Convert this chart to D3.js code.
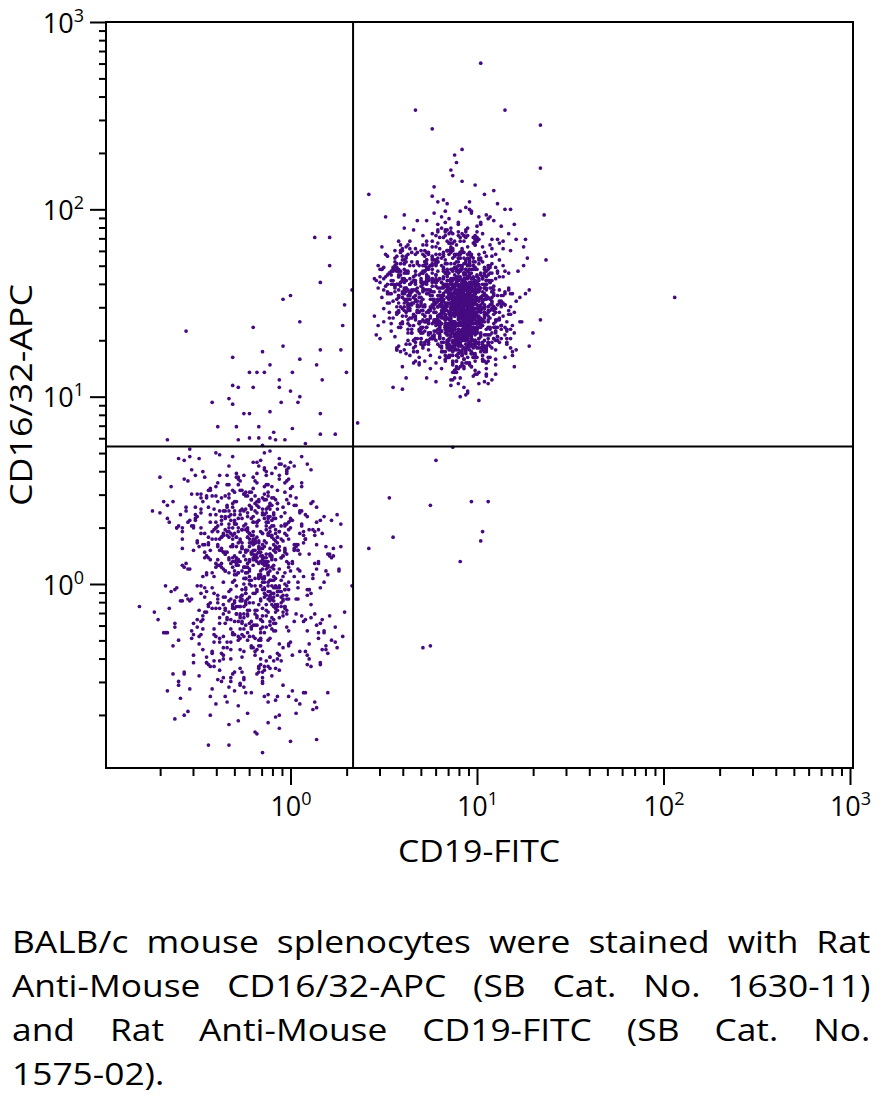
<!DOCTYPE html>
<html>
<head>
<meta charset="utf-8">
<script src="https://cdn.jsdelivr.net/npm/d3@7"></script>
<style>
  html, body { margin: 0; padding: 0; background: #fff; }
  body { width: 883px; height: 1116px; position: relative; overflow: hidden; }
  svg { position: absolute; left: 0; top: 0; }
  #caption { position: absolute; left: 12px; top: 919px; width: 753px;
    transform: scaleX(1.14); transform-origin: 0 0;
    font-family: "Open Sans", sans-serif; font-size: 31px; line-height: 44px; color: #000; }
  #caption .j { text-align: justify; text-align-last: justify; }
</style>
</head>
<body>
<svg id="chart" width="883" height="900"></svg>
<div id="caption">
  <div class="j">BALB/c mouse splenocytes were stained with Rat</div>
  <div class="j">Anti-Mouse CD16/32-APC (SB Cat. No. 1630-11)</div>
  <div class="j">and Rat Anti-Mouse CD19-FITC (SB Cat. No.</div>
  <div>1575-02).</div>
</div>
<script>
// ---------------- DATA (event intensities stored as log10(value) x 100) ----------------
const xLabel = "CD19-FITC";
const yLabel = "CD16/32-APC";
const majorTicks = [1, 10, 100, 1000];
const majorExponents = ["0", "1", "2", "3"];
const minorMultipliers = [2, 3, 4, 5, 6, 7, 8, 9];
const minorDecades = [0.1, 1, 10, 100];
const gateCD19 = 2.165;     // vertical quadrant gate
const gateCD1632 = 5.42;    // horizontal quadrant gate

// CD19+ CD16/32+ population: dense core
const upperCD19 = [
92,85,101,97,78,88,110,94,83,99,90,105,87,72,95,91,100,84,113,93,
89,96,81,104,92,75,98,86,107,93,90,82,118,95,88,101,79,94,91,86,
97,84,93,108,90,77,99,87,95,102,70,91,85,96,112,89,93,81,100,94,
88,103,92,83,97,115,90,86,99,76,94,91,105,82,93,98,87,109,73,95,
91,99,84,96,89,106,93,80,101,92,87,117,94,85,98,90,78,103,95,88,
100,86,93,111,90,82,97,95,74,89,104,92,87,99,84,96,91,108,80,93,
85,98,92,79,102,94,88,114,90,97,83,95,91,106,87,71,100,93,89,96,
94,81,99,90,107,86,92,97,77,103,89,95,84,110,93,88,101,91,66,98,
90,96,87,104,93,80,99,85,92,112,94,89,102,83,97,91,76,100,88,95,
97,89,93,84,108,91,86,100,95,73,92,98,87,105,90,82,96,119,93,88,
86,101,94,90,78,97,92,109,85,99,91,83,96,104,89,93,100,75,95,87,
93,88,102,96,81,91,114,87,98,90,94,84,106,92,79,97,89,101,86,95,
99,92,85,107,90,96,88,72,100,94,83,97,91,111,86,93,104,89,80,96,
91,97,84,93,103,88,95,77,99,90,108,86,94,82,101,92,97,87,116,90,
88,95,100,83,92,106,89,96,74,98,91,85,103,94,87,99,81,93,110,96,
95,87,92,101,80,97,90,113,86,94,99,84,91,105,89,96,78,100,93,88,
102,90,86,95,98,83,109,92,88,96,76,101,94,87,91,104,85,97,90,120,
89,94,99,82,93,107,87,91,96,79,100,92,86,103,95,90,112,84,98,93,
96,85,91,104,88,97,81,94,101,90,115,87,93,99,83,92,106,89,74,97,
92,100,87,94,78,98,91,105,86,96,89,102,93,84,110,95,90,81,99,88,
87,93,108,90,97,84,101,92,76,95,88,99,91,104,85,96,93,118,82,94,
98,91,85,102,94,80,96,89,107,92,86,100,71,97,93,88,103,90,95,84,
90,104,93,87,99,83,95,111,89,92,97,78,101,86,94,90,106,85,98,92,
94,88,100,95,82,91,109,87,96,93,77,102,89,98,85,94,105,91,80,97,
85,97,92,103,89,95,81,99,93,87,114,90,96,84,101,92,88,107,94,73,
101,90,87,96,93,106,84,98,91,79,100,95,88,103,92,86,97,116,90,94,
93,86,99,91,108,88,95,82,97,90,104,87,94,100,76,92,98,85,102,89,
89,95,104,84,92,97,79,101,94,88,110,91,96,86,99,93,81,105,90,97,
97,92,88,100,85,94,113,90,96,83,98,92,87,106,95,75,101,89,93,99,
91,84,96,102,90,87,99,93,80,104,95,89,108,92,86,97,94,82,100,64,
95,90,85,98,107,92,88,101,94,78,96,91,103,87,99,93,84,112,90,96,
88,102,93,86,97,91,81,104,95,90,99,85,92,109,87,96,77,100,94,91,
100,87,94,90,83,105,92,97,89,115,93,86,98,91,80,102,95,88,106,92,
92,97,84,99,91,88,103,95,76,93,101,87,96,90,110,85,94,98,82,89,
86,93,101,92,97,80,95,89,106,91,98,84,93,100,87,117,90,96,83,94,
99,91,88,104,93,86,96,79,101,92,89,97,111,85,95,90,103,88,94,72,
90,95,107,87,93,98,82,100,91,96,85,102,89,94,78,99,92,108,86,95,
96,84,93,90,101,88,113,92,97,81,95,89,104,93,87,99,91,76,100,94,
87,99,92,105,83,96,90,94,88,102,79,97,93,86,110,91,98,85,95,90,
93,101,86,95,90,109,84,98,92,88,100,74,96,91,104,87,94,99,82,97,
89,94,98,83,102,91,95,87,106,93,80,99,90,96,85,114,92,97,88,101,
97,88,92,100,86,94,79,103,91,96,89,108,84,95,93,98,77,90,102,92,
84,95,103,91,97,87,92,111,89,99,85,94,101,90,96,82,105,93,88,95,
91,98,87,94,106,90,83,96,100,92,78,97,89,103,93,86,99,118,91,85
];
const upperCD1632 = [
146,131,158,140,172,149,125,153,137,162,144,118,151,135,167,142,156,129,148,183,
139,152,127,160,145,134,170,148,121,155,141,163,136,150,113,157,143,131,176,147,
154,138,149,166,132,145,159,124,151,140,178,146,133,157,142,116,161,148,136,153,
143,160,135,150,128,155,147,188,139,163,131,152,144,169,126,149,158,137,145,121,
150,134,162,141,155,119,147,138,173,153,130,146,159,136,151,143,165,127,140,156,
137,157,145,130,164,148,123,154,141,168,133,150,144,181,139,158,128,147,152,115,
158,142,131,154,146,171,137,150,125,161,143,135,155,148,118,152,140,166,134,149,
145,129,160,139,152,143,177,133,156,147,122,151,138,163,130,146,157,110,144,154,
133,155,148,126,162,140,151,136,169,145,158,131,147,120,153,142,174,137,149,160,
152,139,144,167,134,157,127,149,141,162,146,185,135,153,130,158,143,124,150,138,
141,163,132,150,145,159,117,148,137,155,129,166,144,152,134,171,140,156,126,147,
159,136,153,128,146,142,164,151,121,139,157,133,148,170,143,131,155,137,179,145,
130,150,141,158,136,147,125,161,143,154,138,176,149,132,160,146,119,152,140,165,
147,134,165,143,152,129,156,140,168,135,150,144,123,159,137,153,142,182,131,148,
155,141,137,149,118,162,146,133,157,144,170,128,151,139,163,147,135,154,112,143,
138,160,147,131,154,145,167,136,150,126,158,142,149,175,134,152,140,121,161,146,
149,127,153,142,164,137,148,159,132,145,156,140,172,129,151,143,166,135,147,116,
132,157,144,151,139,169,126,153,141,148,135,161,145,120,155,138,150,178,143,160,
161,145,129,154,147,136,158,142,174,131,149,138,163,144,124,152,140,157,134,151,
144,152,138,124,159,146,133,167,140,155,129,148,137,160,145,186,132,153,142,127,
153,135,162,147,130,156,141,149,171,138,152,122,158,144,136,165,148,131,154,143,
136,148,155,139,166,133,151,128,146,161,140,157,134,150,177,143,125,159,147,138,
151,142,131,158,145,173,137,154,119,148,140,163,152,135,146,157,129,142,168,133,
140,165,149,134,152,127,144,160,138,151,133,147,181,141,155,130,162,145,136,123,
157,131,146,163,139,150,124,155,143,136,170,148,129,153,141,158,114,149,137,164,
148,154,137,129,160,145,135,151,167,140,156,132,147,122,158,142,175,136,152,144,
134,147,159,143,126,155,140,164,133,150,145,117,157,139,162,146,130,153,141,169,
163,139,148,156,134,143,172,128,152,146,137,158,125,149,141,166,135,154,144,131,
142,156,130,147,162,138,151,121,145,159,134,168,140,153,127,148,143,176,136,155,
150,128,164,141,153,147,133,158,138,145,180,131,156,143,160,137,149,124,152,146,
131,153,144,170,137,149,159,126,146,141,154,135,163,148,130,157,142,151,115,138,
156,140,151,133,148,124,161,145,139,166,128,152,143,157,136,147,173,134,150,142,
145,168,135,152,141,157,130,149,162,137,146,155,121,143,158,132,150,140,165,127,
138,150,157,127,163,144,152,136,148,174,131,159,140,147,134,153,118,156,142,149,
160,137,146,154,132,149,142,167,129,155,139,148,161,126,151,144,136,170,147,133,
143,158,130,147,155,139,171,134,152,140,160,123,149,136,145,163,141,128,154,148,
152,133,161,140,146,128,154,143,177,137,150,145,132,158,141,119,156,147,139,164,
135,149,144,162,129,153,138,147,158,126,143,169,140,151,134,156,145,131,160,141,
155,143,150,125,159,142,134,165,147,138,152,130,146,161,137,183,144,153,128,149,
141,160,136,148,153,131,157,144,122,151,139,162,133,147,155,140,168,129,146,137,
147,132,156,141,166,145,127,152,137,159,143,134,172,148,130,154,139,161,145,113,
158,139,149,134,150,163,141,156,130,146,138,153,127,160,144,135,151,176,142,148,
136,154,129,151,143,147,160,132,145,157,125,149,141,167,137,152,133,146,158,140,
149,137,162,145,131,156,144,127,153,139,170,142,150,128,161,146,135,155,143,122
];
// CD19+ CD16/32+ population: broad halo
const haloCD19 = [
86,70,101,59,93,112,78,88,66,97,120,82,74,105,91,52,84,99,63,109,
95,61,80,115,72,89,104,55,92,77,100,68,125,85,73,96,58,108,81,90,
76,103,67,88,118,83,57,94,71,110,87,64,99,79,46,92,106,75,84,69,
100,82,62,96,74,113,89,53,107,70,85,97,60,122,80,91,66,102,77,94,
68,91,109,79,87,49,98,73,116,84,65,95,104,58,89,76,111,71,83,99,
88,56,94,75,106,67,81,127,92,63,101,78,86,54,97,110,72,90,61,105,
79,97,70,114,84,60,93,77,102,48,89,108,66,95,81,119,74,87,59,100,
93,73,85,62,99,111,76,90,57,104,69,83,96,130,78,64,92,102,71,86,
62,104,80,92,51,87,117,72,98,68,84,107,75,93,61,101,82,45,96,78,
107,78,91,69,83,100,58,95,74,112,88,63,102,80,70,94,124,67,85,97,
81,95,64,103,76,89,71,115,86,56,99,79,92,68,106,84,60,97,73,109,
97,69,87,58,110,79,94,83,66,101,74,121,88,62,96,77,105,86,53,91,
74,88,106,81,63,97,52,90,78,113,85,70,99,93,65,82,108,75,94,61,
90,60,98,73,87,118,68,84,103,77,56,95,81,110,72,89,64,100,79,86,
65,101,83,94,71,106,89,59,97,80,92,67,126,76,104,85,50,93,74,99,
103,76,92,66,98,84,112,73,88,61,100,79,94,107,70,87,63,96,82,116,
83,94,57,89,79,102,69,96,85,120,73,91,64,99,81,55,105,77,90,71,
71,97,86,110,64,91,80,104,67,93,78,115,84,58,96,72,88,101,62,94,
99,67,79,93,85,60,108,76,91,70,103,86,47,97,82,112,69,89,75,105,
87,105,73,62,96,81,94,117,72,88,59,100,77,92,65,98,83,71,109,80,
58,90,102,84,75,98,66,86,111,79,95,68,104,81,91,73,123,87,63,97,
94,78,88,106,69,83,57,101,74,96,85,113,62,90,76,99,80,67,93,108,
77,111,64,92,84,72,100,89,54,105,81,94,70,86,119,75,97,61,88,83,
106,83,96,71,90,63,99,78,87,115,68,93,82,57,101,89,74,110,66,92,
69,88,80,103,60,95,84,107,76,91,65,98,128,79,93,70,85,102,73,96,
91,74,99,85,113,67,88,56,96,80,104,72,90,63,109,83,95,77,49,100,
84,102,70,95,78,90,61,105,86,73,97,117,81,92,68,99,75,88,59,103,
98,64,91,76,107,82,95,70,121,87,62,93,79,101,85,72,96,112,67,89,
73,95,85,59,98,74,110,89,66,100,83,71,94,55,91,106,80,97,63,87,
102,81,67,92,86,114,72,97,78,88,103,60,95,84,69,99,76,93,108,65,
80,93,105,70,89,62,100,83,95,73,87,116,66,98,78,91,52,104,85,74,
95,71,88,99,64,94,79,108,68,90,76,101,84,61,97,82,113,73,89,96,
66,100,77,91,118,80,93,58,103,86,70,95,81,107,63,92,87,75,99,78,
88,79,96,65,84,101,71,92,110,75,98,83,67,94,104,57,90,80,86,121,
76,92,63,104,82,97,87,69,95,114,73,89,100,78,85,62,106,93,71,98,
93,85,74,98,60,90,107,81,72,96,84,125,68,91,79,102,65,88,97,75,
101,68,94,82,76,111,63,99,86,91,57,93,78,105,72,87,95,82,118,70,
79,96,89,72,103,85,67,94,80,100,70,87,92,64,109,77,98,84,61,90,
90,75,100,87,69,93,81,116,74,97,88,62,102,83,95,71,86,107,79,54,
84,103,78,95,66,89,98,73,106,81,92,68,85,99,76,123,90,64,96,80,
97,70,86,61,100,77,92,84,112,69,95,79,104,88,73,91,59,101,83,94,
72,91,109,83,95,64,87,102,77,93,66,98,81,90,115,74,96,86,70,105,
89,82,66,97,79,108,71,94,85,60,99,88,76,106,92,80,67,103,95,84,
104,87,93,74,90,83,119,68,97,78,91,64,100,86,81,95,73,109,62,92,
81,98,72,88,105,67,95,79,91,110,76,93,84,58,99,87,71,102,90,77
];
const haloCD1632 = [
150,128,171,139,186,157,118,163,143,199,134,155,176,112,147,165,130,181,141,159,
136,168,149,121,178,144,158,105,153,132,191,146,170,126,161,140,183,151,115,174,
162,140,131,175,148,193,125,157,137,169,109,152,144,182,133,160,121,154,178,145,
143,185,156,117,164,138,172,150,196,129,158,146,104,167,139,177,124,153,141,188,
171,131,147,162,122,180,143,157,135,203,149,127,166,154,113,175,141,160,136,151,
127,156,189,142,168,119,151,174,133,146,162,108,184,139,157,130,170,148,197,124,
158,145,134,179,126,153,166,140,192,131,161,149,118,176,143,155,128,187,137,164,
141,173,152,110,160,137,183,147,125,168,139,156,200,134,171,122,150,165,144,132,
175,124,163,148,196,134,157,119,170,145,129,181,152,138,166,107,159,143,177,150,
133,161,142,170,138,188,127,155,146,164,114,149,174,131,162,185,140,157,121,168,
154,138,179,126,159,147,167,133,106,172,150,136,160,194,143,128,178,148,165,139,
166,117,150,160,135,174,144,189,130,156,168,125,145,162,137,152,111,180,142,158,
145,169,128,151,181,139,160,123,176,149,135,163,186,140,156,129,171,147,101,161,
129,155,174,137,163,126,148,167,141,198,132,159,144,120,172,153,138,165,148,182,
177,142,159,132,146,170,115,161,150,134,187,143,155,168,127,178,140,151,163,136,
138,180,146,164,123,157,141,173,136,155,147,204,130,162,151,119,167,144,176,129,
160,135,167,149,192,133,153,128,182,145,163,139,156,112,174,142,160,135,148,170,
148,163,122,176,142,158,137,169,154,116,180,149,133,165,143,157,126,184,152,141,
169,127,151,143,157,116,175,139,164,131,150,190,138,160,147,173,135,155,122,162,
135,152,183,128,166,145,132,158,172,140,124,161,147,178,134,150,166,141,194,127,
157,144,137,171,134,163,150,109,166,148,170,131,158,142,185,137,153,168,130,145,
173,130,160,146,155,188,126,151,140,174,136,154,167,123,149,162,144,179,132,156,
131,167,149,122,178,140,164,153,135,158,196,128,146,171,138,157,116,163,150,141,
162,139,171,157,128,152,143,186,129,167,149,137,160,144,176,125,155,135,170,147,
140,176,132,164,147,118,159,136,173,145,161,152,127,189,142,166,139,158,110,153,
152,125,145,182,138,160,133,168,150,121,177,143,163,136,155,199,131,149,168,137,
168,148,161,130,173,144,190,126,157,141,134,166,150,179,124,160,146,137,171,154,
126,160,138,154,142,167,153,131,184,147,162,120,172,139,158,143,176,129,151,164,
155,133,176,148,161,129,147,169,138,156,143,181,132,167,151,107,163,145,134,174,
147,170,129,159,135,183,140,154,165,126,172,139,148,160,118,153,187,136,158,142,
179,141,164,137,150,123,168,146,132,177,155,128,162,142,171,134,156,149,195,130,
137,156,148,172,128,161,139,179,145,134,166,157,121,152,140,175,131,168,146,159,
164,129,140,158,144,176,135,150,187,132,153,170,139,161,148,124,167,143,155,138,
144,167,155,134,183,147,126,162,141,170,137,149,176,130,158,145,193,136,163,151,
170,138,152,165,131,156,148,121,174,143,160,133,185,150,137,166,141,157,127,172,
132,158,177,141,162,135,170,151,128,164,146,180,124,159,142,153,136,171,149,115,
159,146,133,168,152,184,139,157,143,130,175,148,161,136,167,127,154,145,178,140,
141,173,160,129,147,138,165,125,156,183,134,151,142,170,131,162,149,137,158,192,
174,131,145,178,136,162,150,140,169,127,158,143,173,134,152,186,125,166,139,155,
153,164,139,151,189,130,157,171,133,148,136,177,154,123,163,140,160,147,172,132,
136,149,168,125,160,145,132,164,182,139,153,128,166,151,140,174,137,157,119,168,
167,140,154,171,138,155,179,134,150,161,130,147,190,142,156,133,168,145,136,160,
148,177,126,163,143,129,166,153,138,175,144,159,132,169,125,152,141,180,158,135,
130,154,162,139,170,148,122,158,145,135,168,154,140,177,149,163,130,146,172,157,
161,135,149,183,127,167,142,152,174,140,131,165,150,137,184,144,158,126,162,149
];
// left shoulder of the double-positive population
const shoulderCD19 = [
60,52,68,57,64,49,62,71,55,59,66,47,61,54,73,58,63,50,67,56,
62,55,70,48,59,65,53,61,76,57,64,51,58,69,45,60,63,54,67,58,
57,66,51,63,59,72,55,61,48,68,60,53,64,56,62,74,50,58,65,61,
64,53,59,67,46,61,56,70,58,63,52,66,60,55,71,49,62,57,65,54,
59,68,55,62,50,64,57,73,53,60,66,48,61,58,69,56,63,51,67,60,
55,63,58,71,52,60,65,47,62,57,68,54,59,64,50,61,75,56,63,58
];
const shoulderCD1632 = [
163,155,172,160,149,168,158,176,151,165,143,170,157,162,181,153,166,147,161,174,
158,169,150,164,177,156,145,171,161,152,183,159,167,148,163,173,154,160,142,168,
171,153,164,147,159,175,162,150,168,156,140,166,160,178,151,163,169,145,157,173,
155,166,178,152,162,146,170,159,164,149,175,157,143,168,161,153,180,160,150,167,
167,151,160,174,157,163,148,169,155,179,153,161,171,146,165,158,150,176,162,156,
160,176,154,166,150,162,172,158,145,169,156,165,181,152,163,148,170,159,157,164
];
// sparse upper and lower tails of the double-positive population
const tailCD19 = [
95,82,108,77,101,90,115,86,99,73,104,93,120,88,97,80,111,92,84,105,98,76,117,89,102,94,83,109,91,100,87,113,96,79,106,92,85,118,99,90,
96,88,102,93,85,99,107,91,97,83,104,94,100,89,95,110,92,98,86,101,93,105,90,97,87,103,95,99,91,108
];
const tailCD1632 = [
190,205,184,212,196,188,200,221,183,194,208,186,192,229,198,185,203,215,189,197,182,207,187,225,193,201,186,210,199,184,218,191,204,188,195,232,187,200,213,186,
118,110,124,105,121,114,127,100,116,122,108,125,112,119,103,117,123,111,126,98,120,115,107,124,113,119,102,121,116,109
];
// CD19- CD16/32- population: core
const lowerCD19 = [
-15,-24,-6,-31,-11,2,-19,-40,-9,-27,-13,8,-21,-35,-4,-17,-50,-12,-1,-26,
-20,-8,-33,-14,5,-23,-11,-44,-18,-3,-29,-16,12,-25,-7,-38,-13,-22,0,-10,
-12,-28,-2,-19,-37,-9,-24,15,-15,-31,-6,-46,-21,-11,3,-26,-17,-55,-8,-30,
-23,-5,-16,-34,-10,9,-20,-42,-14,-1,-27,-18,-60,-7,-32,-13,6,-25,-19,-36,
-9,-21,-39,-12,1,-28,-16,-48,-4,-23,-11,17,-30,-15,-43,-6,-20,-33,-14,4,
-18,-35,-7,-24,-13,10,-29,-17,-52,-3,-22,-10,-40,-16,-27,7,-12,-32,-20,-1,
-26,-11,-45,-15,-2,-21,-34,-8,-19,14,-30,-13,-58,-5,-24,-17,-38,-9,-28,3,
-14,-31,-6,-22,-41,-12,0,-25,-18,-47,-10,-33,-3,-20,11,-27,-15,-36,-7,-23,
-10,-19,-37,-4,-26,-16,-53,-13,6,-29,-21,-8,-42,-17,-30,-2,-24,13,-11,-35,
-22,-7,-30,-15,-49,-11,-25,2,-18,-36,-9,-28,-14,20,-32,-5,-20,-44,-12,-27,
-16,-29,-3,-21,-12,-39,-8,-26,9,-17,-33,-65,-10,-23,-1,-19,-31,-14,-46,-6,
-25,-13,-41,-9,-20,5,-28,-16,-35,-4,-22,-11,-51,-18,-30,1,-15,-24,-38,-7,
-11,-34,-18,-2,-27,-14,-43,-8,-21,16,-31,-12,-24,-57,-6,-19,-37,-15,-29,8,
-20,-6,-26,-40,-13,-1,-23,-33,-10,-48,-17,-28,4,-15,-36,-9,-22,-62,-12,-30,
-14,-27,-8,-19,-45,-11,7,-32,-16,-24,-3,-38,-21,-13,-54,-5,-26,18,-18,-34,
-17,-4,-29,-12,-39,-22,0,-15,-31,-8,-47,-19,-26,11,-10,-35,-23,-14,-58,-2,
-24,-13,-6,-33,-18,-44,-9,-27,3,-20,-12,-37,-16,-30,-66,-7,-21,-28,14,-11,
-8,-22,-36,-15,-1,-26,-50,-12,-19,-32,6,-24,-10,-41,-17,-29,-4,-23,-14,-55,
-28,-10,-18,-42,-5,-21,-33,-13,10,-25,-16,-38,-7,-46,-20,-2,-30,-15,-24,22,
-13,-31,-21,-6,-27,-52,-11,-35,-17,-1,-23,-9,-40,-15,8,-28,-19,-44,-12,-32,
-19,-7,-38,-14,-25,2,-30,-11,-48,-20,-4,-34,-16,-61,-9,-26,-13,12,-22,-37,
-6,-24,-15,-43,-10,-29,-18,5,-36,-12,-56,-21,-3,-27,-14,-40,-8,-31,-17,-25,
-30,-12,-20,0,-34,-16,-47,-9,-23,-38,-5,-26,15,-13,-32,-19,-53,-11,-28,-2,
-11,-36,-22,-8,-45,-17,-27,-3,-14,-31,19,-24,-10,-39,-18,-63,-6,-29,-15,-42,
-23,-2,-16,-33,-12,-50,-20,-7,-28,-14,-37,4,-25,-9,-44,-18,-31,-1,-21,-13,
-15,-28,-40,-10,-19,9,-35,-13,-24,-57,-6,-30,-17,-46,-11,-22,-3,-33,-16,-8,
-26,-9,-32,-17,-3,-41,-14,-22,-51,-12,-29,7,-19,-36,-5,-25,-15,-48,-10,-34,
-7,-20,-13,-38,-25,-1,-16,-43,-11,-30,-59,-18,-27,2,-14,-33,-21,-9,-45,-23,
-18,-34,-5,-26,-14,-49,-10,-22,13,-31,-17,-39,-8,-24,-68,-12,-28,-3,-20,-36,
-12,-25,-42,-8,-29,-16,-2,-35,-19,-54,-11,-23,5,-32,-15,-40,-7,-27,-18,-44
];
const lowerCD1632 = [
13,-5,28,41,2,19,-22,33,8,55,-14,24,-1,47,15,-33,36,6,62,-9,
21,-11,39,4,27,-26,16,50,-3,31,11,-40,44,9,25,-18,58,0,35,14,
5,30,-16,22,46,-7,18,-29,38,12,67,-2,26,-20,42,7,-47,33,17,-10,
29,-4,15,53,-24,36,10,-13,45,1,23,-35,31,19,-8,60,-17,39,3,26,
-12,40,20,-1,34,-30,12,48,-6,25,71,-19,37,8,-44,28,14,-9,52,18,
16,-21,43,6,29,-3,57,11,-38,32,22,-11,47,-26,17,4,36,-52,24,9,
35,2,-15,27,12,49,-31,20,-5,41,15,-23,30,64,-2,19,-41,37,10,-8,
-3,24,56,13,-27,33,7,-12,44,21,-49,28,0,16,-18,39,74,-7,25,11,
26,-14,18,-34,40,5,31,-6,52,14,-24,35,-2,23,-57,45,9,-16,30,17,
8,43,-9,21,-28,36,15,63,-4,27,-19,12,48,-37,20,2,33,-11,-63,24,
19,-7,38,-20,10,54,-1,29,-43,17,32,-13,42,6,-25,22,68,-5,14,-32,
31,-17,4,46,23,-36,13,-8,39,-54,27,7,58,-22,34,11,-3,18,-46,40,
-6,28,14,-23,50,1,37,-15,22,-42,9,33,-10,66,18,-29,25,3,44,-19,
23,-2,-39,30,11,43,-16,6,59,-27,20,35,-8,15,-50,38,12,-21,27,5,
12,37,-25,18,-4,28,-58,34,7,47,-12,24,-33,16,72,-7,29,1,-18,41,
17,-9,32,-44,21,4,51,-20,26,13,-35,39,-3,61,9,-14,30,-26,19,-1,
3,45,-18,25,-48,14,35,-7,20,57,-30,11,28,-13,42,-60,16,6,33,-22,
27,-10,8,40,-32,19,-1,53,15,-24,31,-5,46,-41,22,10,-15,36,70,-8,
-20,34,12,-37,24,2,48,-11,29,-55,17,39,-6,21,-28,55,7,-17,32,14,
10,-26,41,20,-9,31,-45,16,63,-3,25,-21,37,1,-36,28,13,-12,49,-31,
22,6,-13,35,-51,18,44,-4,27,-34,15,58,-19,30,4,-8,40,-67,24,9,
-1,29,-23,13,52,-16,33,7,-40,26,-6,45,19,-29,37,11,-62,21,-11,48,
32,-15,18,-31,26,4,60,-9,38,-21,14,-47,29,8,-3,43,-25,16,77,-14,
15,39,-7,23,-42,34,-12,49,3,-27,20,-58,31,10,-17,44,-4,25,-36,6,
-8,26,-30,14,41,-19,28,-2,56,-44,19,8,-24,35,-11,65,1,-33,22,12,
37,-12,24,-5,47,-38,16,31,-22,9,-70,27,5,-15,40,-28,18,53,-1,-45,
20,-25,11,45,-13,29,-60,7,34,-8,59,-20,23,-34,14,3,-50,30,-18,42,
-4,33,-41,18,-16,24,4,51,-29,12,-9,38,-53,21,-2,46,-23,10,-39,28,
25,-19,36,-6,61,-32,13,-14,28,-48,41,-10,19,6,-26,35,-73,17,-5,-38,
9,-28,47,-21,20,-43,32,-7,15,-56,26,-17,39,-35,11,-64,22,-12,-80,-86
];
// CD19- CD16/32- population: broad halo
const lowerHaloCD19 = [
-12,-30,5,-41,-19,14,-7,-52,-25,0,-35,20,-15,-46,-3,-28,9,-58,-21,-9,
-33,2,-17,-44,11,-26,-6,-62,-13,18,-38,-22,-1,-50,-10,25,-31,-16,-40,4,
7,-24,-48,-11,-34,16,-2,-55,-20,-37,1,-14,-68,-27,12,-43,-8,-29,22,-18,
-39,-5,-23,-57,8,-16,-32,-74,-10,19,-45,-26,-3,-36,13,-51,-19,-7,-30,26,
-21,-47,3,-12,-35,-60,15,-28,-4,-42,-17,10,-53,-24,-1,-33,21,-14,-49,-9,
-29,6,-38,-15,-64,-22,17,-6,-45,-31,-11,23,-54,-19,0,-40,-25,8,-59,-13,
4,-27,-43,-8,-36,-18,28,-50,-23,-2,-33,14,-66,-12,-41,-28,9,-20,-5,-48,
-16,-56,-1,-31,12,-39,-24,-9,-47,19,-14,-35,-71,-3,-26,6,-44,-18,-30,24,
-37,-11,-52,3,-22,-29,15,-61,-7,-40,-19,27,-33,-15,-48,1,-25,-57,-10,11,
-6,-34,-20,-67,8,-42,-13,-27,21,-53,-2,-38,-24,16,-49,-9,-31,-17,-62,5,
-25,13,-46,-4,-32,-58,0,-21,-39,10,-15,-51,-28,24,-7,-43,-19,-35,2,-65,
-44,-18,7,-30,-12,-55,18,-36,-23,-1,-48,-8,-27,13,-60,-16,-33,4,-41,-22,
-3,-50,-26,-14,20,-37,-9,-63,-19,-31,6,-45,-11,-24,29,-54,-6,-39,-16,-70,
-28,1,-40,-20,-5,-59,11,-34,-15,-47,-25,23,-8,-52,-30,-2,-43,17,-12,-36,
9,-21,-60,-33,-10,-45,3,-27,-17,-56,14,-38,-4,-29,-66,-13,-48,-23,20,-7,
-35,-14,-2,-53,-24,16,-42,-8,-31,-61,-18,5,-46,-26,-11,-37,26,-57,-20,-3,
-19,-41,10,-28,-6,-50,-15,-33,22,-64,-9,-44,-23,1,-36,-13,-55,8,-30,-47,
-10,-32,-58,-1,-39,-21,12,-49,-27,-4,-43,18,-16,-67,-25,-7,-40,-14,15,-53,
-42,4,-24,-13,-52,-35,-8,27,-29,-18,-60,-2,-37,-22,9,-46,-11,-31,-73,0,
-4,-26,-45,-17,7,-54,-32,-12,-39,21,-20,-48,-6,-35,-62,-14,3,-28,-44,-9,
-31,-15,-63,-23,-3,-41,14,-11,-56,-27,-37,2,-19,-51,-8,-33,25,-45,-16,-24,
16,-38,-22,-7,-49,-29,-14,-66,-1,-34,-18,11,-43,-25,-58,-5,-30,-12,19,-40,
-20,-52,-9,-36,6,-27,-45,-15,-70,-3,-32,-21,10,-47,-11,-39,-26,0,-54,-17
];
const lowerHaloCD1632 = [
12,-20,38,-5,55,21,-37,30,0,47,-13,16,-52,27,6,-28,64,-9,35,18,
-15,42,3,25,-44,19,58,-3,33,-25,10,49,-60,23,-8,37,14,-33,52,1,
28,-11,46,-39,17,-2,61,8,-22,34,-57,20,44,-16,5,-70,29,13,-30,54,
-6,31,9,-48,24,66,-19,39,2,-35,15,50,-12,26,-63,41,-1,19,-27,7,
45,-24,21,-4,36,-54,11,57,-17,28,4,-40,48,-9,33,-75,16,62,-14,24,
-1,39,-31,14,52,-21,27,-46,6,43,-7,19,68,-36,30,-13,9,-58,37,22,
18,-45,33,3,-16,59,-28,22,47,-8,13,-66,35,1,-24,53,-3,26,-41,40,
-29,11,56,-12,29,-51,17,-2,44,-33,23,7,-19,63,-6,32,-43,14,49,-23,
36,-9,18,-62,42,5,-26,30,-14,70,-38,20,-4,46,-20,12,58,-47,25,-11,
8,-34,51,-1,24,-56,38,-17,15,-8,60,-29,3,34,-49,21,-13,44,-72,16,
-18,26,-7,41,-40,10,65,-23,31,-3,-53,37,13,-31,50,-10,23,-60,4,33,
41,-14,22,-47,6,55,-26,17,-69,29,-5,45,-35,11,67,-19,36,-2,-44,20,
-3,48,-21,14,-58,32,2,-33,24,-11,54,-42,19,40,-15,8,-77,28,-24,57,
22,-38,9,36,-10,-61,43,-18,27,4,-50,15,62,-27,33,-6,18,-35,47,1,
-25,17,-52,30,-1,46,-16,12,-45,39,-22,69,-8,25,-57,14,38,-30,5,-12,
35,-7,59,-29,13,-43,24,-13,50,-2,31,-64,17,-20,43,-37,8,56,-10,27,
-16,40,-32,6,64,-23,19,-55,34,-4,-41,22,-14,52,-28,11,-68,37,2,-19,
15,-50,28,-8,44,-34,3,67,-18,23,-60,36,-1,-26,48,-11,30,-46,12,61,
-36,21,-3,53,-21,7,-71,32,-12,42,-30,16,-52,27,-6,57,-39,20,-15,34,
4,-27,47,-44,26,-9,37,-59,13,-17,65,-1,-38,29,-23,10,46,-65,21,-5,
30,-13,-48,18,54,-31,8,-7,41,-54,25,-20,-79,35,-2,63,-34,15,-9,49,
-21,58,2,-40,20,-16,45,-26,11,-63,33,-5,50,-36,24,-12,39,-74,7,-28,
13,-42,31,-11,68,-24,5,-47,38,-3,27,-58,16,-17,42,-8,22,-84,34,-30
];
// sparse events: bridge between populations, outliers and CD19+ CD16/32- events
const sparseCD19 = [
-22,-18,-14,1,-6,17,30,-31,-28,-20,-6,0,-42,-33,-31,-5,5,4,-25,-22,-11,16,-39,-29,-17,1,-9,-22,-17,-11,-8,-3,8,16,24,-66,36,
13,21,21,33,-56,-20,-4,0,16,-31,-15,-11,-4,5,16,14,27,28,29,5,
102,115,67,134,76,42,134,137,136,206,134,128,126,
78,87,53,75,97,106,55,42,103,102,91,75,71,33,
-81,-33,-15,14,-57,3
];
const sparseCD1632 = [
113,113,113,113,109,109,113,106,105,105,105,103,97,99,96,97,100,97,91,91,92,91,84,84,84,83,81,78,78,78,77,77,75,80,80,77,86,
185,185,170,157,135,137,152,154,161,121,124,117,127,120,125,117,125,138,149,140,
278,253,253,245,243,208,222,173,197,153,141,157,184,
66,73,46,42,44,44,25,19,28,23,12,-33,-34,-1,
-12,-86,-90,-83,-70,-69
];

// ---------------- CHART ----------------
const svg = d3.select("#chart");
const font = "'Open Sans', sans-serif";
const box = { left: 106, top: 22, right: 853, bottom: 768 };

const x = d3.scaleLog().domain([1, 1000]).range([290.5, 850]);
const y = d3.scaleLog().domain([1, 1000]).range([584, 22]);
const fromLog = v => Math.pow(10, v / 100);

function pairs(xs, ys) {
  const n = Math.min(xs.length, ys.length);
  const out = [];
  for (let i = 0; i < n; i++) out.push([fromLog(xs[i]), fromLog(ys[i])]);
  return out;
}
const events = [].concat(
  pairs(lowerHaloCD19, lowerHaloCD1632),
  pairs(lowerCD19, lowerCD1632),
  pairs(sparseCD19, sparseCD1632),
  pairs(haloCD19, haloCD1632),
  pairs(shoulderCD19, shoulderCD1632),
  pairs(tailCD19, tailCD1632),
  pairs(upperCD19, upperCD1632)
);

svg.append("g")
  .selectAll("circle")
  .data(events)
  .join("circle")
  .attr("cx", d => x(d[0]))
  .attr("cy", d => y(d[1]))
  .attr("r", 1.85)
  .attr("fill", "#460a80");

// frame
svg.append("rect")
  .attr("x", box.left).attr("y", box.top)
  .attr("width", box.right - box.left).attr("height", box.bottom - box.top)
  .attr("fill", "none").attr("stroke", "#000").attr("stroke-width", 2);

// quadrant gates
svg.append("line")
  .attr("x1", x(gateCD19)).attr("x2", x(gateCD19))
  .attr("y1", box.top).attr("y2", box.bottom)
  .attr("stroke", "#000").attr("stroke-width", 2);
svg.append("line")
  .attr("x1", box.left).attr("x2", box.right)
  .attr("y1", y(gateCD1632)).attr("y2", y(gateCD1632))
  .attr("stroke", "#000").attr("stroke-width", 2);

// ticks
const minorTicks = [];
minorDecades.forEach(dec => minorMultipliers.forEach(m => minorTicks.push(m * dec)));
const yMinor = minorTicks.filter(v => y(v) <= box.bottom);

function styleAxis(g) {
  g.select(".domain").remove();
  g.selectAll(".tick line").attr("stroke", "#000").attr("stroke-width", 2);
}
function supLabels(g, anchor, tx, ty) {
  g.selectAll(".tick text").each(function(d) {
    const t = d3.select(this);
    t.text(null)
      .attr("x", tx).attr("y", ty).attr("dy", 0)
      .attr("text-anchor", anchor)
      .attr("font-family", font).attr("font-size", 27).attr("fill", "#000");
    t.append("tspan").text("10");
    t.append("tspan").text(majorExponents[majorTicks.indexOf(d)])
      .attr("font-size", 18).attr("dy", -11);
  });
}

svg.append("g").attr("transform", `translate(0,${box.bottom})`)
  .call(d3.axisBottom(x).tickValues(minorTicks).tickSize(8).tickFormat(""))
  .call(styleAxis);
svg.append("g").attr("transform", `translate(0,${box.bottom})`)
  .call(d3.axisBottom(x).tickValues(majorTicks).tickSize(17))
  .call(styleAxis)
  .call(g => supLabels(g, "middle", 0, 48));

svg.append("g").attr("transform", `translate(${box.left},0)`)
  .call(d3.axisLeft(y).tickValues(yMinor).tickSize(7).tickFormat(""))
  .call(styleAxis);
svg.append("g").attr("transform", `translate(${box.left},0)`)
  .call(d3.axisLeft(y).tickValues(majorTicks).tickSize(16))
  .call(styleAxis)
  .call(g => supLabels(g, "end", -22, 10));

// axis titles
svg.append("text")
  .attr("x", 479).attr("y", 862)
  .attr("text-anchor", "middle")
  .attr("font-family", font).attr("font-size", 31).attr("fill", "#000")
  .attr("textLength", 162).attr("lengthAdjust", "spacingAndGlyphs")
  .text(xLabel);
svg.append("text")
  .attr("transform", "translate(32,395) rotate(-90)")
  .attr("text-anchor", "middle")
  .attr("font-family", font).attr("font-size", 31).attr("fill", "#000")
  .attr("textLength", 222).attr("lengthAdjust", "spacingAndGlyphs")
  .text(yLabel);
</script>
</body>
</html>
